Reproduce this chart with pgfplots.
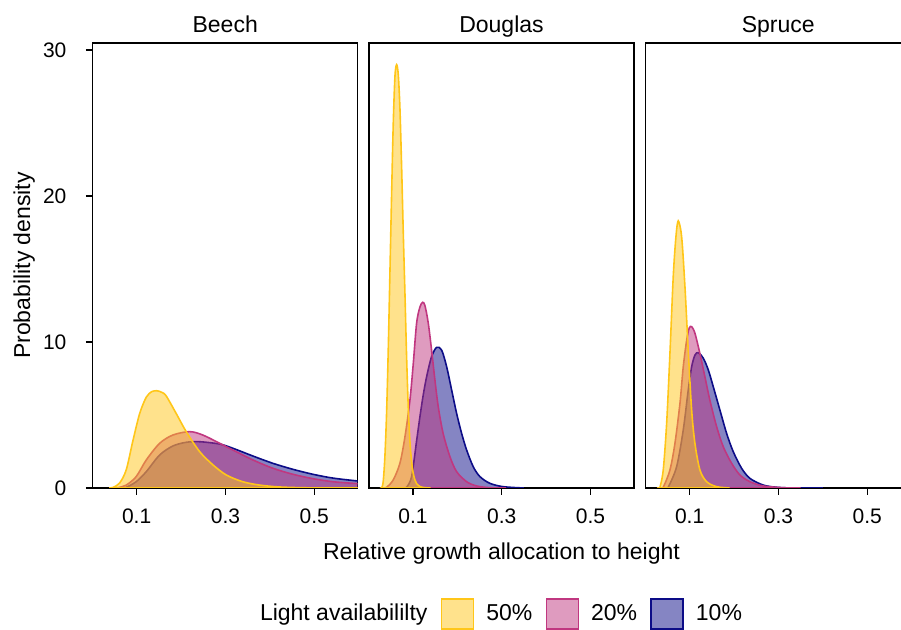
\documentclass[border=0pt]{standalone}
\usepackage{pgfplots}
\pgfplotsset{compat=1.18}
\usepackage{fontspec}
\setmainfont{Liberation Sans}

\definecolor{c50}{RGB}{255,198,25}
\definecolor{c20}{RGB}{192,55,128}
\definecolor{c10}{RGB}{12,12,135}

\newcommand{\labfont}{\fontsize{11.5}{13.5}\selectfont}
\newcommand{\tickfont}{\fontsize{10.5}{12.5}\selectfont}

\pgfplotsset{
  panel/.style={
    scale only axis, width=132.5pt, height=222.5pt,
    xmin=0.001, xmax=0.598, ymin=0, ymax=30.48,
    xtick={0.1,0.3,0.5}, ytick={0,10,20,30},
    tick align=outside, tick pos=left, major tick length=3.35pt,
    axis line style={line width=0.6pt},
    every tick/.style={black, line width=0.6pt},
    /pgf/number format/assume math mode=true,
    /pgf/number format/fixed,
    tick label style={font=\tickfont, inner sep=0pt},
    xticklabel shift=6.9pt,
    yticklabel shift=9.6pt,
    every axis title shift=0pt,
    title style={at={(0.5,1)}, anchor=base, yshift=5.35pt, font=\labfont},
  },
  dens/.style={smooth, line width=0.8pt, draw=#1, fill=#1, fill opacity=0.5, forget plot},
}

\begin{document}
\begin{tikzpicture}
\path[use as bounding box] (0pt,0pt) rectangle (450.5pt,-315pt);
\clip (0pt,0pt) rectangle (450.5pt,-315pt);

% ---------------- Beech ----------------
\begin{axis}[panel, at={(46.35pt,-244pt)}, anchor=south west, title={Beech},
  ylabel={Probability density},
  ylabel style={at={(axis description cs:-0.259,0.5)}, anchor=center, font=\labfont},
  legend style={at={(axis description cs:2.4502,-0.2832)}, anchor=east,
    draw=none, fill=none, inner sep=0pt, outer sep=0pt, font=\labfont,
    legend columns=-1, nodes={inner sep=0pt},
    /tikz/every odd column/.append style={column sep=6pt},
    /tikz/every even column/.append style={column sep=6.6pt}},
  legend cell align=left]
\addplot[dens=c10] table {
0.060 0
0.0743 0.02
0.099 0.43
0.1217 1.12
0.1518 2.26
0.1818 2.88
0.2117 3.13
0.242 3.17
0.287 3.01
0.317 2.72
0.362 2.19
0.407 1.69
0.452 1.28
0.497 0.94
0.542 0.68
0.598 0.48
0.630 0.40
} \closedcycle;
\addplot[dens=c20] table {
0.050 0
0.058 0.02
0.0766 0.20
0.099 0.78
0.1217 1.92
0.1518 3.06
0.1818 3.63
0.2194 3.86
0.249 3.63
0.287 3.06
0.317 2.60
0.362 1.92
0.407 1.35
0.452 0.94
0.497 0.64
0.542 0.43
0.598 0.30
0.630 0.25
} \closedcycle;
\addplot[dens=c50] table {
0.038 0
0.047 0.04
0.0617 0.34
0.0766 1.25
0.0917 3.25
0.1068 5.10
0.1217 6.22
0.134 6.60
0.1457 6.66
0.1567 6.55
0.1667 6.30
0.189 5.11
0.2117 3.86
0.242 2.49
0.272 1.58
0.302 0.89
0.339 0.43
0.377 0.20
0.422 0.07
0.490 0.01
0.600 0
} \closedcycle;
\addlegendimage{empty legend}
\addlegendentry{Light availabililty}
\addlegendimage{legend image code/.code={\draw[draw=c50, fill=c50, fill opacity=0.5, line width=0.8pt] (0pt,-7.6pt) rectangle (16pt,7.6pt);}}
\addlegendentry{50\%}
\addlegendimage{legend image code/.code={\draw[draw=c20, fill=c20, fill opacity=0.5, line width=0.8pt] (0pt,-7.6pt) rectangle (16pt,7.6pt);}}
\addlegendentry{20\%}
\addlegendimage{legend image code/.code={\draw[draw=c10, fill=c10, fill opacity=0.5, line width=0.8pt] (0pt,-7.6pt) rectangle (16pt,7.6pt);}}
\addlegendentry{10\%}
\end{axis}

% ---------------- Douglas ----------------
\begin{axis}[panel, at={(184.5pt,-244pt)}, anchor=south west, title={Douglas},
  ytick=\empty,
  xlabel={Relative growth allocation to height},
  xlabel style={at={(axis description cs:0.5,0)}, anchor=base, yshift=-35.5pt, font=\labfont}]
\addplot[dens=c10] table {
0.080 0
0.0858 0.05
0.097 0.78
0.1083 3.24
0.1158 4.89
0.1232 6.37
0.1309 7.63
0.142 9.00
0.1533 9.63
0.1646 9.45
0.1759 8.31
0.1872 6.71
0.1984 5.11
0.2097 3.74
0.221 2.60
0.2358 1.46
0.2509 0.78
0.2734 0.32
0.3034 0.09
0.350 0
} \closedcycle;
\addplot[dens=c20] table {
0.035 0
0.0408 0.05
0.0556 0.55
0.0707 1.70
0.082 3.50
0.0932 6.00
0.1007 8.50
0.1083 11.30
0.1158 12.40
0.1218 12.72
0.127 12.50
0.1345 11.30
0.142 9.45
0.1495 7.40
0.157 5.57
0.168 3.74
0.1833 2.15
0.1984 1.12
0.221 0.43
0.2435 0.14
0.273 0.02
0.310 0
} \closedcycle;
\addplot[dens=c50] table {
0.028 0
0.0302 0.05
0.0332 0.50
0.0369 2.20
0.0407 5.20
0.0444 9.50
0.0482 14.80
0.052 20.20
0.0557 25.00
0.0595 28.20
0.0632 29.00
0.067 28.30
0.0707 26.00
0.0745 22.00
0.0782 17.50
0.082 13.30
0.0857 9.00
0.0895 5.50
0.0932 3.20
0.097 1.80
0.1007 1.00
0.1045 0.55
0.1083 0.30
0.1158 0.10
0.127 0.02
0.140 0
} \closedcycle;
\end{axis}

% ---------------- Spruce ----------------
\begin{axis}[panel, at={(322.85pt,-244pt)}, anchor=south west, title={Spruce},
  ytick=\empty]
\addplot[dens=c10] table {
0.048 0
0.0518 0.05
0.0707 1.46
0.0856 3.97
0.0968 6.70
0.1045 8.30
0.1119 9.10
0.1194 9.27
0.1306 8.90
0.1419 8.10
0.1532 6.94
0.1682 5.34
0.1833 3.74
0.1982 2.49
0.2171 1.35
0.2358 0.66
0.2658 0.20
0.296 0.05
0.3333 0
0.400 0
} \closedcycle;
\addplot[dens=c20] table {
0.036 0
0.0405 0.05
0.0556 1.23
0.0669 3.06
0.0782 5.80
0.0856 8.30
0.0932 10.10
0.099 10.95
0.1045 11.05
0.1119 10.60
0.1232 9.20
0.1345 7.60
0.1457 6.00
0.1608 4.20
0.1757 2.83
0.1946 1.69
0.2133 0.89
0.2358 0.43
0.2658 0.14
0.311 0.02
0.350 0
} \closedcycle;
\addplot[dens=c50] table {
0.030 0
0.0331 0.05
0.0405 1.23
0.0482 4.43
0.0556 9.20
0.0631 14.50
0.0691 17.20
0.0743 18.30
0.082 17.20
0.0894 13.80
0.0968 9.45
0.1045 5.34
0.1119 3.06
0.1232 1.23
0.1383 0.43
0.1608 0.09
0.190 0
} \closedcycle;
\end{axis}
\end{tikzpicture}
\end{document}
